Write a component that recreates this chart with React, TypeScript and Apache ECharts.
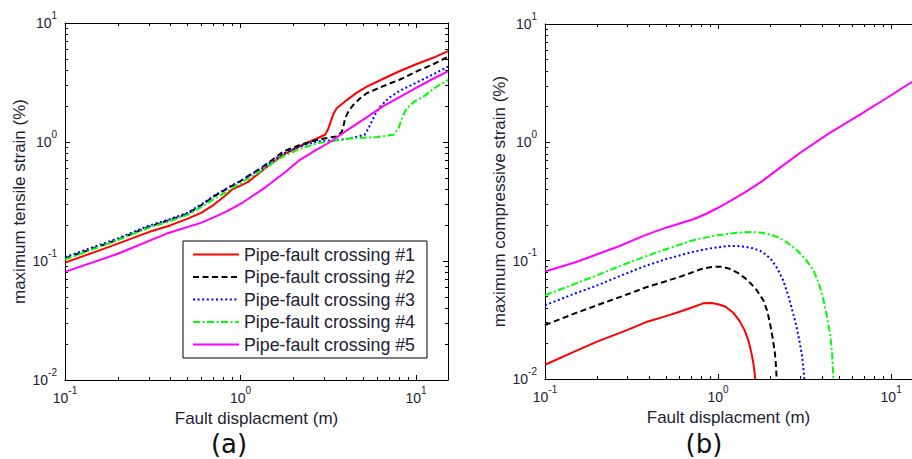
import React, { useEffect, useRef } from "react";
import * as echarts from "echarts";

// ---------- data: (a) maximum tensile strain (%) vs fault displacement (m)
const SERIES_NAMES = [
  "Pipe-fault crossing #1",
  "Pipe-fault crossing #2",
  "Pipe-fault crossing #3",
  "Pipe-fault crossing #4",
  "Pipe-fault crossing #5",
];

const tensile1 = [[0.1,0.097],[0.15,0.12],[0.2,0.14],[0.3,0.175],[0.4,0.2],[0.5,0.227],[0.6,0.255],[0.7,0.295],[0.8,0.345],[0.9,0.4],[1.0,0.43],[1.1,0.46],[1.3,0.56],[1.5,0.66],[1.75,0.78],[2.2,0.93],[2.72,1.07],[3.03,1.15],[3.15,1.28],[3.24,1.44],[3.38,1.72],[3.53,1.92],[4.03,2.25],[4.6,2.6],[5.24,2.92],[6.5,3.4],[8.1,3.95],[10,4.5],[12.5,5.1],[15.2,5.8]];
const tensile2 = [[0.1,0.105],[0.15,0.13],[0.2,0.151],[0.3,0.194],[0.4,0.222],[0.5,0.25],[0.6,0.295],[0.7,0.347],[0.85,0.41],[1.0,0.47],[1.13,0.53],[1.3,0.6],[1.5,0.7],[1.75,0.83],[2.2,0.95],[2.72,1.04],[3.2,1.09],[3.53,1.11],[3.78,1.22],[3.88,1.42],[3.94,1.58],[4.15,1.85],[4.39,2.05],[4.8,2.33],[5.24,2.57],[6.5,2.95],[8.1,3.35],[10,3.9],[12.5,4.5],[15.2,5.2]];
const tensile3 = [[0.1,0.108],[0.15,0.133],[0.2,0.155],[0.3,0.198],[0.4,0.226],[0.5,0.255],[0.6,0.3],[0.7,0.35],[0.85,0.415],[1.0,0.47],[1.3,0.59],[1.75,0.8],[2.2,0.92],[2.72,1.01],[3.5,1.04],[4.2,1.07],[5.1,1.15],[5.35,1.3],[5.58,1.48],[5.9,1.75],[6.24,1.98],[7.0,2.35],[8.1,2.7],[10,3.15],[12.5,3.7],[15.2,4.3]];
const tensile4 = [[0.1,0.103],[0.15,0.128],[0.2,0.15],[0.3,0.19],[0.4,0.217],[0.5,0.245],[0.6,0.285],[0.7,0.33],[0.85,0.39],[1.0,0.45],[1.3,0.57],[1.75,0.76],[2.2,0.88],[2.72,0.975],[3.5,1.03],[4.2,1.07],[6.0,1.1],[7.43,1.15],[7.94,1.3],[8.4,1.65],[8.86,1.92],[9.8,2.2],[11.0,2.4],[13,2.9],[15.2,3.32]];
const tensile5 = [[0.1,0.081],[0.2,0.115],[0.38,0.17],[0.6,0.21],[0.73,0.238],[0.85,0.265],[1.03,0.31],[1.4,0.42],[1.8,0.56],[2.17,0.705],[2.7,0.86],[3.24,1.0],[4.2,1.3],[5.2,1.6],[6.5,2.0],[8.1,2.4],[10,2.85],[12.5,3.4],[15.2,3.92]];

// ---------- data: (b) maximum compressive strain (%) vs fault displacement (m)
const compress1 = [[0.1,0.0132],[0.15,0.0172],[0.2,0.0207],[0.3,0.026],[0.39,0.0305],[0.5,0.034],[0.6,0.037],[0.7,0.04],[0.82,0.0436],[0.92,0.0438],[1.0,0.0428],[1.1,0.041],[1.22,0.0365],[1.33,0.031],[1.42,0.026],[1.5,0.021],[1.56,0.0165],[1.6,0.0135],[1.63,0.011],[1.64,0.01]];
const compress2 = [[0.1,0.0286],[0.15,0.036],[0.2,0.042],[0.3,0.052],[0.39,0.06],[0.5,0.067],[0.6,0.073],[0.7,0.079],[0.8,0.085],[0.9,0.088],[0.96,0.089],[1.05,0.089],[1.15,0.086],[1.3,0.079],[1.47,0.069],[1.65,0.058],[1.83,0.046],[1.93,0.037],[2.0,0.029],[2.07,0.022],[2.13,0.0165],[2.16,0.013],[2.18,0.01]];
const compress3 = [[0.1,0.042],[0.15,0.053],[0.19,0.06],[0.27,0.074],[0.37,0.089],[0.5,0.103],[0.72,0.119],[0.9,0.127],[1.14,0.133],[1.3,0.133],[1.43,0.131],[1.6,0.127],[1.75,0.121],[1.9,0.112],[2.04,0.101],[2.2,0.086],[2.38,0.068],[2.55,0.05],[2.7,0.037],[2.85,0.027],[2.97,0.02],[3.05,0.016],[3.1,0.013],[3.15,0.01]];
const compress4 = [[0.1,0.051],[0.15,0.064],[0.19,0.073],[0.27,0.09],[0.37,0.107],[0.5,0.125],[0.72,0.149],[0.9,0.16],[1.14,0.169],[1.35,0.173],[1.56,0.175],[1.8,0.172],[2.0,0.166],[2.22,0.158],[2.5,0.143],[2.85,0.123],[3.2,0.103],[3.56,0.083],[3.8,0.066],[4.06,0.047],[4.25,0.034],[4.44,0.024],[4.55,0.017],[4.64,0.01]];
const compress5 = [[0.1,0.081],[0.15,0.097],[0.19,0.11],[0.27,0.133],[0.37,0.162],[0.5,0.19],[0.72,0.224],[0.85,0.248],[1.0,0.28],[1.2,0.325],[1.43,0.378],[1.8,0.47],[2.22,0.594],[3.0,0.82],[4.33,1.18],[6.75,1.75],[10,2.5],[13.2,3.24]];

// ---------- ticks
const X_MAJOR = [0.1, 1, 10];
const X_MINOR = [0.2, 0.3, 0.4, 0.5, 0.6, 0.7, 0.8, 0.9, 2, 3, 4, 5, 6, 7, 8, 9];
const Y_MAJOR = [0.01, 0.1, 1, 10];
const Y_MINOR = [0.02, 0.03, 0.04, 0.05, 0.06, 0.07, 0.08, 0.09, 0.2, 0.3, 0.4, 0.5, 0.6, 0.7, 0.8, 0.9, 2, 3, 4, 5, 6, 7, 8, 9];

const X_MIN = 0.1;
const X_MAX_A = 15.2;
const X_MAX_B = 13.2;
const Y_MIN = 0.01;
const Y_MAX = 10;

const FONT = "Liberation Sans, Arial, sans-serif";
const TEXT = "#222233";

const COLORS = ["#ff0000", "#000000", "#0000ff", "#00ff00", "#ff00ff"];
const DASHES: any[] = ["solid", [6, 3.5], [2, 2.6], [7, 2.5, 2, 2.5], "solid"];

const powLabel = (v: number) => {
  const e = Math.round(Math.log10(v));
  return "{b|10}{s|" + e + "}";
};
const RICH = {
  b: { fontSize: 14, fontFamily: FONT, color: TEXT, lineHeight: 26 },
  s: { fontSize: 10, fontFamily: FONT, color: TEXT, lineHeight: 9, verticalAlign: "top" },
};

const lineSt = { color: "#000", width: 1 };

function makeXAxes(gridIndex: number, max: number, name: string) {
  const base = {
    type: "log",
    logBase: 10,
    min: X_MIN,
    max,
    gridIndex,
    splitLine: { show: false },
    minorTick: { show: false },
  };
  return [
    {
      ...base,
      position: "bottom",
      axisLine: { show: true, onZero: false, lineStyle: lineSt },
      axisTick: { show: true, inside: true, length: 5, customValues: X_MAJOR, lineStyle: lineSt },
      axisLabel: { show: true, customValues: X_MAJOR, formatter: powLabel, rich: RICH, margin: 5 },
      name,
      nameLocation: "middle",
      nameGap: 28,
      nameTextStyle: { fontSize: 17, fontFamily: FONT, color: TEXT },
    },
    {
      ...base,
      position: "bottom",
      axisLine: { show: false, onZero: false },
      axisTick: { show: true, inside: true, length: 3, customValues: X_MINOR, lineStyle: lineSt },
      axisLabel: { show: false },
    },
    {
      ...base,
      position: "top",
      axisLine: { show: true, onZero: false, lineStyle: lineSt },
      axisTick: { show: true, inside: true, length: 5, customValues: X_MAJOR, lineStyle: lineSt },
      axisLabel: { show: false },
    },
    {
      ...base,
      position: "top",
      axisLine: { show: false, onZero: false },
      axisTick: { show: true, inside: true, length: 3, customValues: X_MINOR, lineStyle: lineSt },
      axisLabel: { show: false },
    },
  ];
}

function makeYAxes(gridIndex: number, name: string, withRight: boolean) {
  const base = {
    type: "log",
    logBase: 10,
    min: Y_MIN,
    max: Y_MAX,
    gridIndex,
    splitLine: { show: false },
    minorTick: { show: false },
  };
  const axes: any[] = [
    {
      ...base,
      position: "left",
      axisLine: { show: true, onZero: false, lineStyle: lineSt },
      axisTick: { show: true, inside: true, length: 5, customValues: Y_MAJOR, lineStyle: lineSt },
      axisLabel: { show: true, customValues: Y_MAJOR, formatter: powLabel, rich: RICH, margin: 8 },
      name,
      nameLocation: "middle",
      nameGap: 37,
      nameTextStyle: { fontSize: 17, fontFamily: FONT, color: TEXT },
    },
    {
      ...base,
      position: "left",
      axisLine: { show: false, onZero: false },
      axisTick: { show: true, inside: true, length: 3, customValues: Y_MINOR, lineStyle: lineSt },
      axisLabel: { show: false },
    },
  ];
  if (withRight) {
    axes.push(
      {
        ...base,
        position: "right",
        axisLine: { show: true, onZero: false, lineStyle: lineSt },
        axisTick: { show: true, inside: true, length: 5, customValues: Y_MAJOR, lineStyle: lineSt },
        axisLabel: { show: false },
      },
      {
        ...base,
        position: "right",
        axisLine: { show: false, onZero: false },
        axisTick: { show: true, inside: true, length: 3, customValues: Y_MINOR, lineStyle: lineSt },
        axisLabel: { show: false },
      }
    );
  }
  return axes;
}

function makeSeries(datas: number[][][], xIdx: number, yIdx: number) {
  return datas.map((d, i) => ({
    type: "line",
    name: SERIES_NAMES[i],
    data: d,
    xAxisIndex: xIdx,
    yAxisIndex: yIdx,
    symbol: "none",
    showSymbol: false,
    smooth: false,
    clip: true,
    lineStyle: { color: COLORS[i], width: 2, type: DASHES[i], cap: "butt", join: "round" },
    itemStyle: { color: COLORS[i] },
  }));
}

export default function App() {
  const ref = useRef<HTMLDivElement>(null);
  useEffect(() => {
    if (!ref.current) return;
    const chart = echarts.init(ref.current, null, { renderer: "svg" });
    const option: any = {
      animation: false,
      backgroundColor: "#ffffff",
      grid: [
        { left: 65, top: 23, width: 383, height: 357 },
        { left: 545, top: 24, width: 367, height: 355 },
      ],
      xAxis: [
        ...makeXAxes(0, X_MAX_A, "Fault displacment (m)"),
        ...makeXAxes(1, X_MAX_B, "Fault displacment (m)"),
      ],
      yAxis: [
        ...makeYAxes(0, "maximum tensile strain (%)", true),
        ...makeYAxes(1, "maximum compressive strain (%)", false),
      ],
      legend: {
        data: SERIES_NAMES,
        orient: "vertical",
        left: 183,
        top: 241,
        itemWidth: 46,
        itemHeight: 14,
        itemGap: 2.5,
        padding: [3.5, 12, 3.5, 9],
        backgroundColor: "#ffffff",
        borderColor: "#000000",
        borderWidth: 1,
        borderRadius: 0,
        selectedMode: false,
        itemStyle: { opacity: 0 },
        textStyle: { fontSize: 17.8, fontFamily: FONT, color: TEXT, lineHeight: 20 },
      },
      graphic: [
        {
          type: "text",
          x: 229,
          y: 444,
          style: { text: "(a)", font: "26px 'DejaVu Sans'", fill: "#111", align: "center", verticalAlign: "middle", textAlign: "center", textVerticalAlign: "middle" },
        },
        {
          type: "text",
          x: 704,
          y: 444,
          style: { text: "(b)", font: "26px 'DejaVu Sans'", fill: "#111", align: "center", verticalAlign: "middle", textAlign: "center", textVerticalAlign: "middle" },
        },
      ],
      series: [
        ...makeSeries([tensile1, tensile2, tensile3, tensile4, tensile5], 0, 0),
        ...makeSeries([compress1, compress2, compress3, compress4, compress5], 4, 4),
      ],
    };
    chart.setOption(option);
    return () => chart.dispose();
  }, []);
  return (
    <div
      ref={ref}
      style={{ position: "fixed", left: 0, top: 0, width: 912, height: 459, background: "#fff" }}
    />
  );
}
